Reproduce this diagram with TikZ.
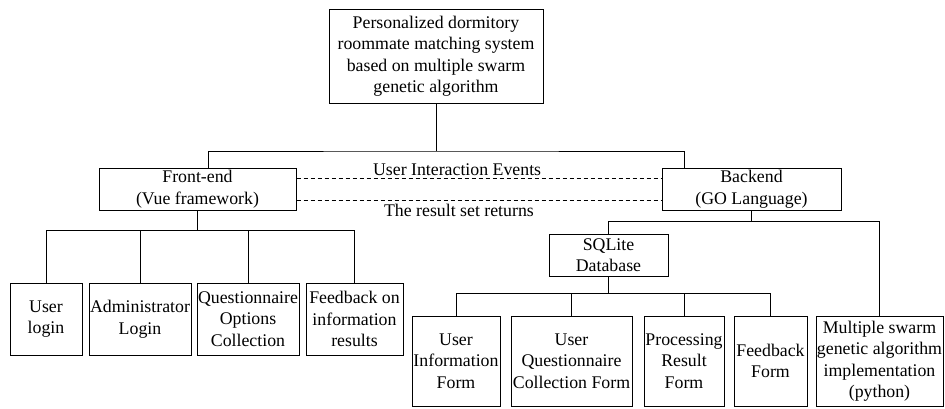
\documentclass[tikz,border=0pt]{standalone}
\usepackage{fontspec}
\setmainfont{Liberation Serif}
\begin{document}
\begin{tikzpicture}[x=1pt,y=-1pt,line width=1pt]
      \tikzstyle{every node}+=[inner sep=0pt,font=\fontsize{17.8}{21.5}\selectfont]
      \tikzstyle{box}=[draw=black,align=center,minimum height=42]
      \tikzstyle{leaf}=[box,minimum height=72]
      \tikzstyle{form}=[box,minimum height=90]
      \useasboundingbox (0,0) rectangle (945,408);
      \node [box,minimum width=214,minimum height=94] (title) at (436,56) {Personalized dormitory\\roommate matching system\\based on multiple swarm\\genetic algorithm};
      \node [box,minimum width=197] (front) at (197.5,189) {Front-end\\(Vue framework)};
      \node [box,minimum width=179] (back) at (751.5,189) {Backend\\(GO Language)};
      \node [leaf,minimum width=72] (login) at (46,319) {User\\login};
      \node [leaf,minimum width=102] (admin) at (140,319) {Administrator\\Login};
      \node [leaf,minimum width=102] (quest) at (248,319) {Questionnaire\\Options\\Collection};
      \node [leaf,minimum width=97] (fback) at (354.5,319) {Feedback on\\information\\results};
      \node [box,minimum width=119] (sqlite) at (608.5,255) {SQLite\\Database};
      \node [form,minimum width=88] (uinfo) at (456,361) {User\\Information\\Form};
      \node [form,minimum width=121] (uquest) at (571.5,361) {User\\Questionnaire\\Collection Form};
      \node [form,minimum width=80] (proc) at (684,361) {Processing\\Result\\Form};
      \node [form,minimum width=73] (fform) at (770.5,361) {Feedback\\Form};
      \node [form,minimum width=127] (swarm) at (879.5,361) {Multiple swarm\\genetic algorithm\\implementation\\(python)};
      \coordinate (jt) at (436,151);
      \coordinate (jf) at (197.5,230);
      \coordinate (jb) at (751.5,221);
      \coordinate (js) at (608.5,293);
      \draw [black] (title) -- (jt);
      \draw [black] ([xshift=10.5]front.north) |- (jt) -| ([xshift=-67.5]back.north);
      \draw [black] (front) -- (jf);
      \foreach \n in {login,admin,quest,fback}
        \draw [black] (jf) -| (\n.north);
      \draw [black] (back) -- (jb);
      \foreach \n in {sqlite,swarm}
        \draw [black] (jb) -| (\n.north);
      \draw [black] (sqlite) -- (js);
      \foreach \n in {uinfo,uquest,proc,fform}
        \draw [black] (js) -| (\n.north);
      \draw [black,dash pattern=on 4pt off 3pt] ([yshift=11]front.east) -- ([yshift=11]back.west) node [pos=0.44,above=2pt] {User Interaction Events};
      \draw [black,dash pattern=on 4pt off 3pt] ([yshift=-11]front.east) -- ([yshift=-11]back.west) node [pos=0.445,below=4pt] {The result set returns};
    \end{tikzpicture}
\end{document}
